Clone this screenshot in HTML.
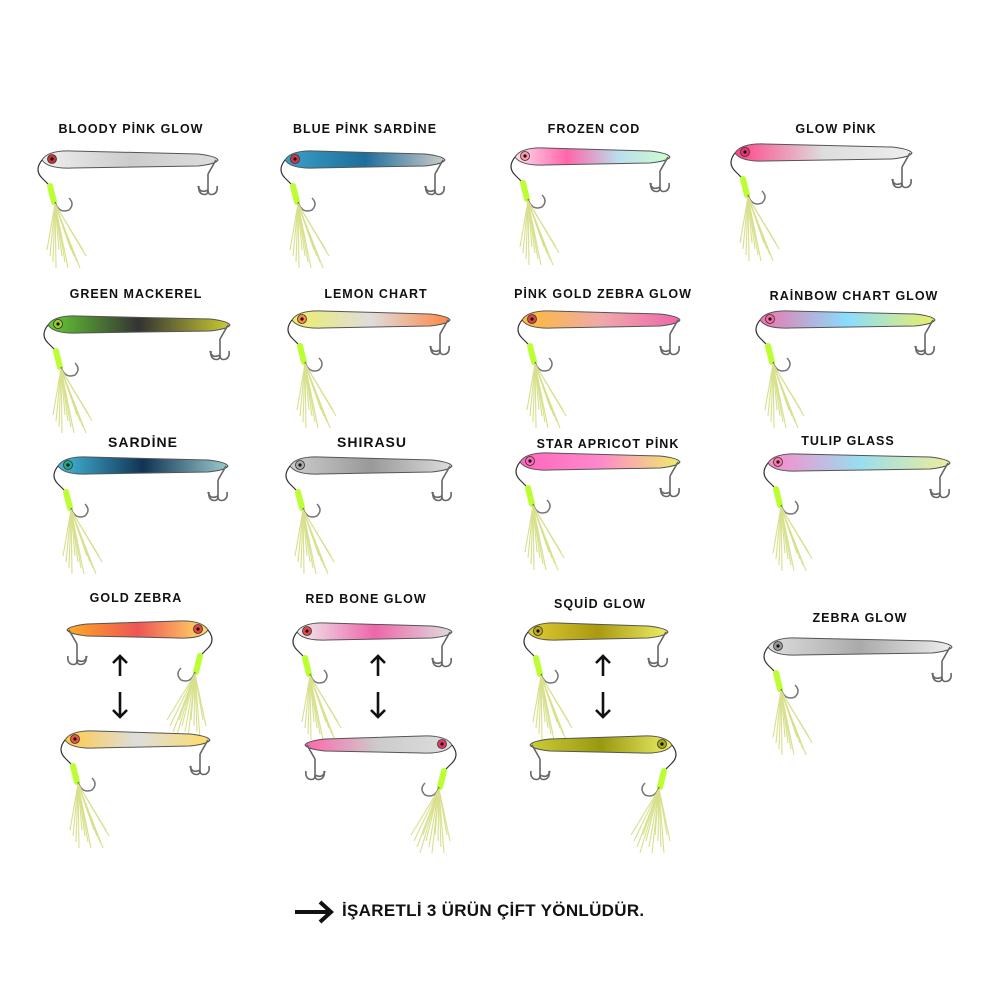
<!DOCTYPE html>
<html><head><meta charset="utf-8"><style>
body{margin:0;background:#fff;width:1000px;height:1000px;position:relative;overflow:hidden;font-family:"Liberation Sans",sans-serif}
.l{position:absolute;font-weight:bold;font-size:12.5px;letter-spacing:1px;color:#111;white-space:nowrap;transform:translateX(-50%)}
svg{position:absolute;left:0;top:0}
.b{position:absolute;left:342px;top:901px;font-size:17px;color:#111;letter-spacing:.3px;font-weight:bold}
</style></head><body>
<div class="l" style="left:131px;top:122px">BLOODY PİNK GLOW</div>
<div class="l" style="left:365px;top:122px">BLUE PİNK SARDİNE</div>
<div class="l" style="left:594px;top:122px">FROZEN COD</div>
<div class="l" style="left:836px;top:122px">GLOW PİNK</div>
<div class="l" style="left:136px;top:287px">GREEN MACKEREL</div>
<div class="l" style="left:376px;top:287px">LEMON CHART</div>
<div class="l" style="left:603px;top:287px">PİNK GOLD ZEBRA GLOW</div>
<div class="l" style="left:854px;top:289px">RAİNBOW CHART GLOW</div>
<div class="l" style="left:143px;top:434px;font-size:14px">SARDİNE</div>
<div class="l" style="left:372px;top:434px;font-size:14px">SHIRASU</div>
<div class="l" style="left:608px;top:437px">STAR APRICOT PİNK</div>
<div class="l" style="left:848px;top:434px">TULIP GLASS</div>
<div class="l" style="left:136px;top:591px">GOLD ZEBRA</div>
<div class="l" style="left:366px;top:592px">RED BONE GLOW</div>
<div class="l" style="left:600px;top:597px">SQUİD GLOW</div>
<div class="l" style="left:860px;top:611px">ZEBRA GLOW</div>
<div class="b">İŞARETLİ 3 ÜRÜN ÇİFT YÖNLÜDÜR.</div>
<svg id="s" width="1000" height="1000"></svg>
<script>
var L=[
[42,218,160,['#eee','#ccc','#ddd'],'#c33',1],
[285,445,160,['#3aa0c8','#1e6e9a','#ccc'],'#d34',1],
[515,670,157,['#fde','#f6a','#bde','#cfc'],'#f9a',1],
[735,912,153,['#f48','#ddd','#eee'],'#e37',1],
[48,230,325,['#6c3','#333','#cc3'],'#9c3',1],
[292,450,320,['#ee6','#ddd','#f84'],'#f84',1],
[522,680,320,['#fb3','#eaa','#e6a'],'#d44',1],
[760,935,320,['#e7a','#8df','#ee6'],'#f6a',1],
[58,228,466,['#4bd','#135','#9cc'],'#2a8',1],
[290,452,466,['#ccc','#999','#ddd'],'#aaa',1],
[520,680,462,['#f6b','#f8c','#ee6'],'#f6b',1],
[768,950,463,['#f8c','#9de','#ee9'],'#f7a',1],
[67,208,630,['#fa2','#e55','#fd6'],'#e44',-1],
[297,452,632,['#eee','#e6a','#ddd'],'#e44',1],
[528,668,632,['#dc3','#a91','#ee6'],'#ba2',1],
[768,952,647,['#ddd','#aaa','#eee'],'#999',1],
[65,210,740,['#fc4','#ddd','#fd6'],'#e54',1],
[305,452,745,['#f6a','#ccc','#ddd'],'#e36',-1],
[530,672,745,['#cc3','#991','#ee6'],'#aa2',-1]];
var h='<defs>';
L.forEach(function(l,i){h+='<linearGradient id="g'+i+'">';l[3].forEach(function(c,k){h+='<stop offset="'+(k/(l[3].length-1))+'" stop-color="'+c+'"/>'});h+='</linearGradient>'});
h+='</defs>';
L.forEach(function(l,i){
var a=l[0],b=l[1],y=l[2],d=l[5];
var n=d>0?a:b,t=d>0?b:a,s=d;
h+='<path d="M'+n+' '+y+' Q'+(n+s*6)+' '+(y-10)+' '+(n+s*30)+' '+(y-9)+' L'+(t-s*20)+' '+(y-6)+' Q'+(t-s*2)+' '+(y-4)+' '+t+' '+y+' Q'+(t-s*2)+' '+(y+4)+' '+(t-s*20)+' '+(y+6)+' L'+(n+s*30)+' '+(y+8)+' Q'+(n+s*6)+' '+(y+9)+' '+n+' '+y+'Z" fill="url(#g'+i+')" stroke="#555" stroke-width="1"/>';
h+='<circle cx="'+(n+s*10)+'" cy="'+(y-1)+'" r="4.5" fill="'+l[4]+'" stroke="#333" stroke-width=".8"/><circle cx="'+(n+s*10)+'" cy="'+(y-1)+'" r="1.6" fill="#111"/>';
h+='<path d="M'+(t-s*2)+' '+y+' l'+(-s*8)+' 14 m0 0 l0 16 q0 6 -6 4 q-4 -2 -3 -8 M'+(t-s*10)+' '+(y+30)+' q0 6 6 4 q4 -2 3 -8 M'+(t-s*10)+' '+(y+30)+' q'+(-s*8)+' 4 '+(-s*10)+' -4" fill="none" stroke="#666" stroke-width="1.6"/>';
var hx=n+s*8;
h+='<path d="M'+n+' '+y+' q'+(-s*8)+' 10 0 18 l'+(s*8)+' 8" fill="none" stroke="#333" stroke-width="1.2"/>';
h+='<path d="M'+(hx)+' '+(y+26)+' l'+(s*4)+' 16" stroke="#bf3" stroke-width="6" stroke-linecap="round"/>';
h+='<path d="M'+(hx+s*5)+' '+(y+42)+' q'+(s*4)+' 12 '+(s*14)+' 8 q'+(s*6)+' -6 0 -12" fill="none" stroke="#777" stroke-width="1.5"/>';
for(var k=0;k<14;k++)h+='<line x1="'+(hx+s*5)+'" y1="'+(y+44)+'" x2="'+(hx+s*5+(k-6)*3+s*10)+'" y2="'+(y+90+(k%4)*6)+'" stroke="#d8e08c" stroke-width="1.1"/>';
});
[120,378,603].forEach(function(x){
h+='<path d="M'+x+' 676 v-20 M'+(x-7)+' 663 l7 -7 7 7 M'+x+' 692 v24 M'+(x-7)+' 710 l7 7 7 -7" fill="none" stroke="#111" stroke-width="2.6"/>';});
h+='<path d="M295 912 h36 M320 902 l11 10 -11 10" fill="none" stroke="#111" stroke-width="4"/>';
document.getElementById('s').innerHTML=h;
</script>
</body></html>
